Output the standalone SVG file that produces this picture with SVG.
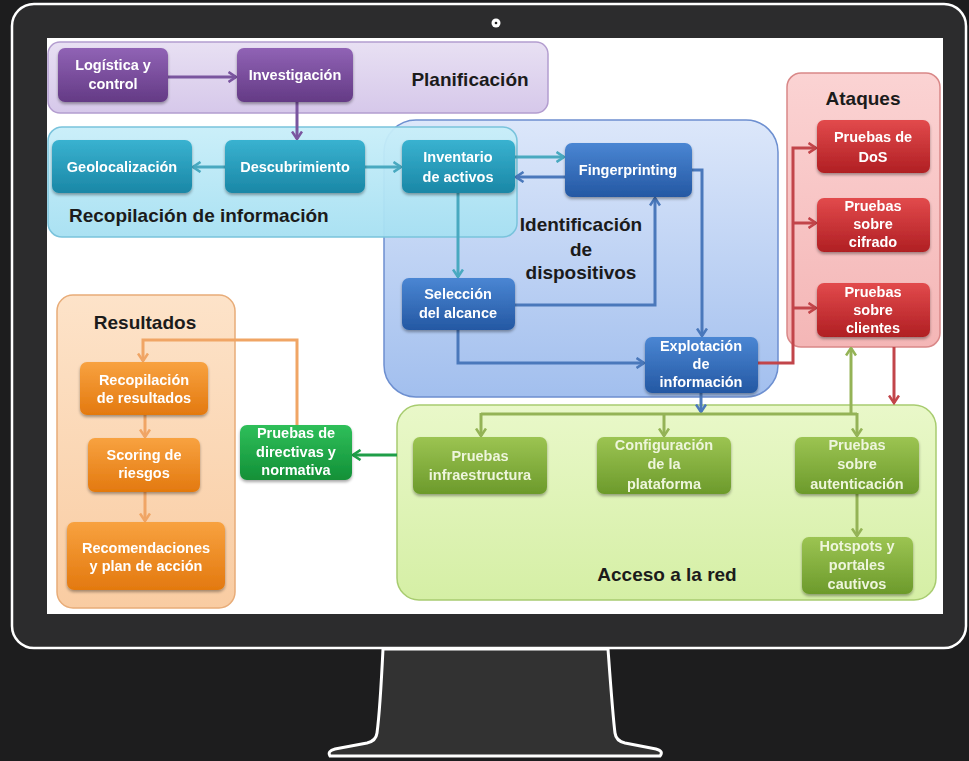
<svg xmlns="http://www.w3.org/2000/svg" width="969" height="761" viewBox="0 0 969 761">
<style>
.t{font-family:"Liberation Sans",Arial,sans-serif;font-weight:700;font-size:14.5px;fill:#ffffff;text-anchor:middle}
.tg{fill:#eef5dc}
.h{font-family:"Liberation Sans",Arial,sans-serif;font-weight:700;font-size:19px;fill:#1b1b1b;text-anchor:middle}
.c{fill:none;stroke-width:3;stroke-linejoin:miter}
.cp{stroke:#7a559f}.ct{stroke:#49a9c0}.cb{stroke:#4a78bb}.cr{stroke:#c2454a}.co{stroke:#94b356}.cg{stroke:#1f9e48}.cor{stroke:#f0a565}
.n{filter:url(#sh)}
</style>
<defs>
<filter id="sh" x="-10%" y="-10%" width="120%" height="130%"><feDropShadow dx="0" dy="2" stdDeviation="1.5" flood-color="#000" flood-opacity="0.35"/></filter>
<linearGradient id="gP" x1="0" y1="0" x2="0" y2="1"><stop offset="0" stop-color="#9063b5"/><stop offset="1" stop-color="#643a85"/></linearGradient>
<linearGradient id="gT" x1="0" y1="0" x2="0" y2="1"><stop offset="0" stop-color="#39b2d0"/><stop offset="1" stop-color="#1a87a6"/></linearGradient>
<linearGradient id="gB" x1="0" y1="0" x2="0" y2="1"><stop offset="0" stop-color="#4a86d3"/><stop offset="1" stop-color="#2458a3"/></linearGradient>
<linearGradient id="gR" x1="0" y1="0" x2="0" y2="1"><stop offset="0" stop-color="#e24a4c"/><stop offset="1" stop-color="#b01f23"/></linearGradient>
<linearGradient id="gO" x1="0" y1="0" x2="0" y2="1"><stop offset="0" stop-color="#f8a240"/><stop offset="1" stop-color="#e3790f"/></linearGradient>
<linearGradient id="gL" x1="0" y1="0" x2="0" y2="1"><stop offset="0" stop-color="#9cc452"/><stop offset="1" stop-color="#6c9a2b"/></linearGradient>
<linearGradient id="gG" x1="0" y1="0" x2="0" y2="1"><stop offset="0" stop-color="#2fbf5a"/><stop offset="1" stop-color="#129037"/></linearGradient>
<linearGradient id="kP" x1="0" y1="0" x2="0" y2="1"><stop offset="0" stop-color="#e8e0f3"/><stop offset="1" stop-color="#d6c8ea"/></linearGradient>
<linearGradient id="kT" x1="0" y1="0" x2="0" y2="1"><stop offset="0" stop-color="#c8eef9"/><stop offset="1" stop-color="#a6e0f2"/></linearGradient>
<linearGradient id="kB" x1="0" y1="0" x2="0" y2="1"><stop offset="0" stop-color="#dce7fa"/><stop offset="1" stop-color="#a2bfee"/></linearGradient>
<linearGradient id="kR" x1="0" y1="0" x2="0" y2="1"><stop offset="0" stop-color="#fbd3d3"/><stop offset="1" stop-color="#f4b6b6"/></linearGradient>
<linearGradient id="kL" x1="0" y1="0" x2="0" y2="1"><stop offset="0" stop-color="#e9f8c9"/><stop offset="1" stop-color="#d5efa5"/></linearGradient>
<linearGradient id="kO" x1="0" y1="0" x2="0" y2="1"><stop offset="0" stop-color="#fde3c9"/><stop offset="1" stop-color="#f9cca2"/></linearGradient>
<marker id="mP" viewBox="0 0 10 12" refX="8.5" refY="6" markerWidth="10" markerHeight="12" markerUnits="userSpaceOnUse" orient="auto"><path d="M1,1 L8.5,6 L1,11" fill="none" stroke="#7a559f" stroke-width="2.6"/></marker>
<marker id="mT" viewBox="0 0 10 12" refX="8.5" refY="6" markerWidth="10" markerHeight="12" markerUnits="userSpaceOnUse" orient="auto"><path d="M1,1 L8.5,6 L1,11" fill="none" stroke="#49a9c0" stroke-width="2.6"/></marker>
<marker id="mB" viewBox="0 0 10 12" refX="8.5" refY="6" markerWidth="10" markerHeight="12" markerUnits="userSpaceOnUse" orient="auto"><path d="M1,1 L8.5,6 L1,11" fill="none" stroke="#4a78bb" stroke-width="2.6"/></marker>
<marker id="mR" viewBox="0 0 10 12" refX="8.5" refY="6" markerWidth="10" markerHeight="12" markerUnits="userSpaceOnUse" orient="auto"><path d="M1,1 L8.5,6 L1,11" fill="none" stroke="#c2454a" stroke-width="2.6"/></marker>
<marker id="mL" viewBox="0 0 10 12" refX="8.5" refY="6" markerWidth="10" markerHeight="12" markerUnits="userSpaceOnUse" orient="auto"><path d="M1,1 L8.5,6 L1,11" fill="none" stroke="#94b356" stroke-width="2.6"/></marker>
<marker id="mG" viewBox="0 0 10 12" refX="8.5" refY="6" markerWidth="10" markerHeight="12" markerUnits="userSpaceOnUse" orient="auto"><path d="M1,1 L8.5,6 L1,11" fill="none" stroke="#1f9e48" stroke-width="2.6"/></marker>
<marker id="mO" viewBox="0 0 10 12" refX="8.5" refY="6" markerWidth="10" markerHeight="12" markerUnits="userSpaceOnUse" orient="auto"><path d="M1,1 L8.5,6 L1,11" fill="none" stroke="#f0a565" stroke-width="2.6"/></marker>
</defs>

<!-- monitor -->
<g id="monitor">
<rect x="0" y="0" width="969" height="761" fill="#1d1d1e"/>
<path d="M383,649 C381,690 379,718 377,733 Q376,741 367,743 L335,749 Q327,751 330,756 L660,756 Q664,751 656,749 L625,743 Q616,741 615,733 C613,718 611,690 608,649 Z" fill="#323232" stroke="#ffffff" stroke-width="3"/>
<rect x="12" y="4" width="954" height="644" rx="22" fill="#2c2c2d" stroke="#ffffff" stroke-width="2.5"/>
<rect x="47" y="38" width="896" height="576" fill="#ffffff"/>
<circle cx="496" cy="23" r="4.5" fill="#ffffff"/>
<circle cx="496" cy="23" r="1.3" fill="#222"/>
</g>

<!-- containers -->
<g id="planificacion">
<rect x="48" y="42" width="500" height="71" rx="12" fill="url(#kP)" stroke="#b39dcf" stroke-width="1.5"/>
<text class="h" x="470" y="86">Planificación</text>
</g>
<g id="identificacion">
<rect x="384" y="120" width="394" height="277" rx="32" fill="url(#kB)" stroke="#6d8fd0" stroke-width="1.5"/>
<text class="h" x="581" y="231">Identificación</text>
<text class="h" x="581" y="256">de</text>
<text class="h" x="581" y="279">dispositivos</text>
</g>
<g id="recopilacion">
<rect x="48" y="127" width="469" height="110" rx="14" fill="url(#kT)" fill-opacity="0.95" stroke="#79c3dc" stroke-width="1.5"/>
<text class="h" x="69" y="222" style="text-anchor:start">Recopilación de información</text>
</g>
<g id="ataques">
<rect x="787" y="73" width="153" height="274" rx="14" fill="url(#kR)" stroke="#d98888" stroke-width="1.5"/>
<text class="h" x="863" y="105">Ataques</text>
</g>
<g id="acceso">
<rect x="397" y="405" width="539" height="195" rx="22" fill="url(#kL)" stroke="#a8cc70" stroke-width="1.5"/>
<text class="h" x="667" y="581">Acceso a la red</text>
</g>
<g id="resultados">
<rect x="57" y="295" width="178" height="313" rx="16" fill="url(#kO)" stroke="#e8ac78" stroke-width="1.5"/>
<text class="h" x="145" y="329">Resultados</text>
</g>

<!-- connectors -->
<g id="connectors">
<path class="c cp" d="M168,77 L236,77" marker-end="url(#mP)"/>
<path class="c cp" d="M297,102 L297,139" marker-end="url(#mP)"/>
<path class="c ct" d="M225,167 L193,167" marker-end="url(#mT)"/>
<path class="c ct" d="M365,167 L401,167" marker-end="url(#mT)"/>
<path class="c ct" d="M515,157 L564,157" marker-end="url(#mT)"/>
<path class="c cb" d="M565,177 L516,177" marker-end="url(#mB)"/>
<path class="c ct" d="M458,193 L458,277" marker-end="url(#mT)"/>
<path class="c cb" d="M515,305 L655,305 L655,198" marker-end="url(#mB)"/>
<path class="c cb" d="M458,330 L458,363 L644,363" marker-end="url(#mB)"/>
<path class="c cb" d="M692,170 L702,170 L702,336" marker-end="url(#mB)"/>
<path class="c cb" d="M701,393 L701,412" marker-end="url(#mB)"/>
<path class="c co" d="M481,414 L857,414"/>
<path class="c co" d="M481,413 L481,436" marker-end="url(#mL)"/>
<path class="c co" d="M664,413 L664,436" marker-end="url(#mL)"/>
<path class="c co" d="M857,413 L857,436" marker-end="url(#mL)"/>
<path class="c co" d="M851,414 L851,348" marker-end="url(#mL)"/>
<path class="c cr" d="M758,363 L793,363 L793,148 L816,148" marker-end="url(#mR)"/>
<path class="c cr" d="M793,223 L816,223" marker-end="url(#mR)"/>
<path class="c cr" d="M793,308 L816,308" marker-end="url(#mR)"/>
<path class="c cr" d="M894,347 L894,403" marker-end="url(#mR)"/>
<path class="c co" d="M857,494 L857,536" marker-end="url(#mL)"/>
<path class="c cg" d="M397,455 L353,455" marker-end="url(#mG)"/>
<path class="c cor" d="M297,425 L297,340 L143,340 L143,361" marker-end="url(#mO)"/>
<path class="c cor" d="M145,415 L145,437" marker-end="url(#mO)"/>
<path class="c cor" d="M145,492 L145,521" marker-end="url(#mO)"/>
</g>

<!-- nodes -->
<g id="logistica" class="n"><rect x="58" y="48" width="110" height="54" rx="7" fill="url(#gP)"/><text class="t" x="113" y="70">Logística y</text><text class="t" x="113" y="89">control</text></g>
<g id="investigacion" class="n"><rect x="237" y="48" width="116" height="54" rx="7" fill="url(#gP)"/><text class="t" x="295" y="80">Investigación</text></g>
<g id="geolocalizacion" class="n"><rect x="52" y="140" width="140" height="53" rx="7" fill="url(#gT)"/><text class="t" x="122" y="172">Geolocalización</text></g>
<g id="descubrimiento" class="n"><rect x="225" y="140" width="140" height="53" rx="7" fill="url(#gT)"/><text class="t" x="295" y="172">Descubrimiento</text></g>
<g id="inventario" class="n"><rect x="402" y="140" width="113" height="53" rx="7" fill="url(#gT)"/><text class="t" x="458" y="162">Inventario</text><text class="t" x="458" y="182">de activos</text></g>
<g id="fingerprinting" class="n"><rect x="565" y="143" width="127" height="54" rx="7" fill="url(#gB)"/><text class="t" x="628" y="175">Fingerprinting</text></g>
<g id="seleccion" class="n"><rect x="402" y="278" width="113" height="52" rx="7" fill="url(#gB)"/><text class="t" x="458" y="299">Selección</text><text class="t" x="458" y="318">del alcance</text></g>
<g id="explotacion" class="n"><rect x="645" y="337" width="113" height="56" rx="7" fill="url(#gB)"/><text class="t" x="701" y="351">Explotación</text><text class="t" x="701" y="369">de</text><text class="t" x="701" y="387">información</text></g>
<g id="dos" class="n"><rect x="817" y="120" width="113" height="53" rx="7" fill="url(#gR)"/><text class="t" x="873" y="142">Pruebas de</text><text class="t" x="873" y="162">DoS</text></g>
<g id="cifrado" class="n"><rect x="817" y="198" width="113" height="54" rx="7" fill="url(#gR)"/><text class="t" x="873" y="211">Pruebas</text><text class="t" x="873" y="229">sobre</text><text class="t" x="873" y="247">cifrado</text></g>
<g id="clientes" class="n"><rect x="817" y="283" width="113" height="54" rx="7" fill="url(#gR)"/><text class="t" x="873" y="297">Pruebas</text><text class="t" x="873" y="315">sobre</text><text class="t" x="873" y="333">clientes</text></g>
<g id="infraestructura" class="n"><rect x="413" y="437" width="134" height="57" rx="7" fill="url(#gL)"/><text class="t tg" x="480" y="461">Pruebas</text><text class="t tg" x="480" y="480">infraestructura</text></g>
<g id="configuracion" class="n"><rect x="597" y="437" width="134" height="57" rx="7" fill="url(#gL)"/><text class="t tg" x="664" y="450">Configuración</text><text class="t tg" x="664" y="469">de la</text><text class="t tg" x="664" y="489">plataforma</text></g>
<g id="autenticacion" class="n"><rect x="795" y="437" width="124" height="57" rx="7" fill="url(#gL)"/><text class="t tg" x="857" y="450">Pruebas</text><text class="t tg" x="857" y="469">sobre</text><text class="t tg" x="857" y="489">autenticación</text></g>
<g id="hotspots" class="n"><rect x="802" y="537" width="111" height="57" rx="7" fill="url(#gL)"/><text class="t tg" x="857" y="551">Hotspots y</text><text class="t tg" x="857" y="570">portales</text><text class="t tg" x="857" y="589">cautivos</text></g>
<g id="directivas" class="n"><rect x="240" y="425" width="112" height="55" rx="7" fill="url(#gG)"/><text class="t" x="296" y="438">Pruebas de</text><text class="t" x="296" y="457">directivas y</text><text class="t" x="296" y="475">normativa</text></g>
<g id="recop-resultados" class="n"><rect x="80" y="362" width="128" height="53" rx="7" fill="url(#gO)"/><text class="t" x="144" y="385">Recopilación</text><text class="t" x="144" y="403">de resultados</text></g>
<g id="scoring" class="n"><rect x="88" y="438" width="112" height="54" rx="7" fill="url(#gO)"/><text class="t" x="144" y="460">Scoring de</text><text class="t" x="144" y="478">riesgos</text></g>
<g id="recomendaciones" class="n"><rect x="67" y="522" width="158" height="68" rx="7" fill="url(#gO)"/><text class="t" x="146" y="553">Recomendaciones</text><text class="t" x="146" y="571">y plan de acción</text></g>
</svg>
